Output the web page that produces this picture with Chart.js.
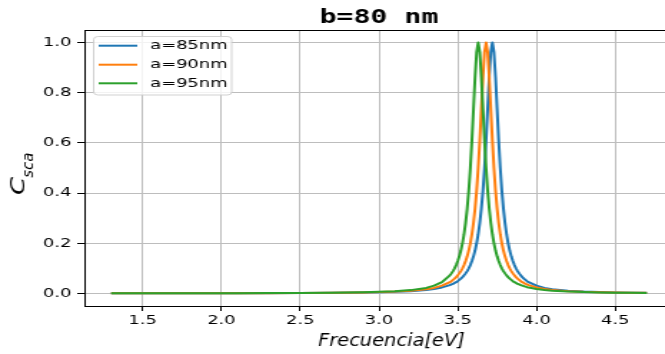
<!DOCTYPE html>
<html>
<head>
<meta charset="utf-8">
<script src="https://cdn.jsdelivr.net/npm/chart.js@4.4.1/dist/chart.umd.min.js"></script>
<style>
    html, body { margin: 0; padding: 0; background: #fff; overflow: hidden; }
    /* the reference picture is stretched sideways, so draw narrow and stretch */
    #wrap { width: 480px; height: 354px; transform: scaleX(1.43); transform-origin: 0 0; }
</style>
</head>
<body>
<div id="wrap"><canvas id="chart" width="480" height="354"></canvas></div>
<script>
const STRETCH = 1.43;

const freq = [
    1.3, 1.5, 1.7, 1.9, 2.1, 2.3, 2.5, 2.7, 2.9, 3.0, 3.1, 3.2, 3.3, 3.35, 3.4,
    3.45, 3.46, 3.47, 3.48, 3.49, 3.50, 3.51, 3.52, 3.53, 3.54, 3.55, 3.56, 3.57, 3.58, 3.59,
    3.60, 3.61, 3.62, 3.63, 3.64, 3.65, 3.66, 3.67, 3.68, 3.69, 3.70, 3.71, 3.72, 3.73, 3.74,
    3.75, 3.76, 3.77, 3.78, 3.79, 3.80, 3.81, 3.82, 3.83, 3.84, 3.85, 3.86, 3.87, 3.88, 3.89,
    3.90, 3.91, 3.92, 3.93, 3.94, 3.95,
    4.0, 4.05, 4.1, 4.2, 4.3, 4.4, 4.5, 4.6, 4.7
];

const cscaA85 = [
    0.0004, 0.0005, 0.0006, 0.0008, 0.0010, 0.0012, 0.0017, 0.0024, 0.0037, 0.0048, 0.0065, 0.0092, 0.014, 0.018, 0.024,
    0.033, 0.036, 0.038, 0.042, 0.045, 0.049, 0.054, 0.059, 0.065, 0.072, 0.080, 0.089, 0.100, 0.113, 0.129,
    0.148, 0.171, 0.200, 0.236, 0.281, 0.338, 0.410, 0.500, 0.610, 0.735, 0.862, 0.962, 1.000, 0.962, 0.862,
    0.735, 0.610, 0.500, 0.410, 0.338, 0.281, 0.236, 0.200, 0.171, 0.148, 0.129, 0.113, 0.100, 0.089, 0.080,
    0.072, 0.065, 0.059, 0.054, 0.049, 0.045,
    0.031, 0.022, 0.017, 0.0107, 0.0074, 0.0054, 0.0041, 0.0032, 0.0026
];

const cscaA90 = [
    0.0004, 0.0005, 0.0006, 0.0008, 0.0010, 0.0013, 0.0018, 0.0026, 0.0041, 0.0054, 0.0074, 0.0107, 0.017, 0.022, 0.031,
    0.045, 0.049, 0.054, 0.059, 0.065, 0.072, 0.080, 0.089, 0.100, 0.113, 0.129, 0.148, 0.171, 0.200, 0.236,
    0.281, 0.338, 0.410, 0.500, 0.610, 0.735, 0.862, 0.962, 1.000, 0.962, 0.862, 0.735, 0.610, 0.500, 0.410,
    0.338, 0.281, 0.236, 0.200, 0.171, 0.148, 0.129, 0.113, 0.100, 0.089, 0.080, 0.072, 0.065, 0.059, 0.054,
    0.049, 0.045, 0.042, 0.038, 0.036, 0.033,
    0.024, 0.018, 0.014, 0.0092, 0.0065, 0.0048, 0.0037, 0.0029, 0.0024
];

const cscaA95 = [
    0.0005, 0.0006, 0.0007, 0.0008, 0.0011, 0.0014, 0.0020, 0.0029, 0.0047, 0.0063, 0.0088, 0.0133, 0.022, 0.031, 0.045,
    0.072, 0.080, 0.089, 0.100, 0.113, 0.129, 0.148, 0.171, 0.200, 0.236, 0.281, 0.338, 0.410, 0.500, 0.610,
    0.735, 0.862, 0.962, 1.000, 0.962, 0.862, 0.735, 0.610, 0.500, 0.410, 0.338, 0.281, 0.236, 0.200, 0.171,
    0.148, 0.129, 0.113, 0.100, 0.089, 0.080, 0.072, 0.065, 0.059, 0.054, 0.049, 0.045, 0.042, 0.038, 0.036,
    0.033, 0.031, 0.029, 0.027, 0.025, 0.024,
    0.018, 0.014, 0.011, 0.0076, 0.0055, 0.0042, 0.0033, 0.0026, 0.0022
];

const seriesLabels = ['a=85nm', 'a=90nm', 'a=95nm'];
const xTicks = [1.5, 2.0, 2.5, 3.0, 3.5, 4.0, 4.5];
const yTicks = [0.0, 0.2, 0.4, 0.6, 0.8, 1.0];

const colors = ['#1f77b4', '#ff7f0e', '#2ca02c'];

function points(ys) {
    return freq.map((f, i) => ({ x: f, y: ys[i] }));
}

// title, axis labels, top spine and legend, matplotlib style
const decorations = {
    id: 'decorations',
    afterDraw(chart) {
        const ctx = chart.ctx;
        const area = chart.chartArea;

        ctx.save();
        ctx.strokeStyle = '#000';
        ctx.lineWidth = 1;
        ctx.beginPath();
        ctx.moveTo(area.left, area.top + 0.5);
        ctx.lineTo(chart.width, area.top + 0.5);
        ctx.stroke();

        ctx.fillStyle = '#000';
        ctx.font = 'bold 19.7px "DejaVu Sans Mono"';
        ctx.textAlign = 'center';
        ctx.textBaseline = 'alphabetic';
        ctx.fillText('b=80 nm', (area.left + area.right) / 2, 23);

        // legend
        ctx.fillStyle = 'rgba(255,255,255,0.8)';
        ctx.strokeStyle = 'rgba(204,204,204,0.9)';
        ctx.lineWidth = 1;
        ctx.beginPath();
        ctx.roundRect(65.5, 36.5, 96.5, 58.5, 3);
        ctx.fill();
        ctx.stroke();
        const rows = [45.7, 64.7, 83.3];
        chart.data.datasets.forEach((ds, i) => {
            ctx.strokeStyle = ds.borderColor;
            ctx.lineWidth = 2;
            ctx.beginPath();
            ctx.moveTo(69, rows[i]);
            ctx.lineTo(96, rows[i]);
            ctx.stroke();
            ctx.fillStyle = '#000';
            ctx.font = '12.5px "DejaVu Sans"';
            ctx.textAlign = 'left';
            ctx.textBaseline = 'middle';
            ctx.fillText(ds.label, 105, rows[i] + 0.5);
        });
        ctx.restore();

        // axis labels are drawn in page pixels (undo the stretch)
        ctx.save();
        ctx.scale(1 / STRETCH, 1);
        ctx.fillStyle = '#000';
        ctx.textBaseline = 'alphabetic';
        ctx.textAlign = 'left';

        ctx.save();
        ctx.translate(318, 346);
        ctx.scale(1.08, 1);
        ctx.font = 'italic 18px "DejaVu Sans"';
        ctx.fillText('Frecuencia[eV]', 0, 0);
        ctx.restore();

        ctx.save();
        ctx.translate(24, 195);
        ctx.rotate(-Math.PI / 2);
        ctx.font = 'italic 26px "DejaVu Sans"';
        const w = ctx.measureText('C').width;
        ctx.save();
        ctx.scale(1, 0.82);
        ctx.fillText('C', 0, 0);
        ctx.restore();
        ctx.font = 'italic 15px "DejaVu Sans"';
        ctx.fillText('sca', w - 1, 9);
        ctx.restore();
        ctx.restore();
    }
};

const ctx = document.getElementById('chart').getContext('2d');
Chart.defaults.font.family = '"DejaVu Sans"';
Chart.defaults.color = '#000';

new Chart(ctx, {
    type: 'line',
    data: {
        datasets: [
            { label: seriesLabels[0], data: points(cscaA85), borderColor: colors[0], order: 2 },
            { label: seriesLabels[1], data: points(cscaA90), borderColor: colors[1], order: 1 },
            { label: seriesLabels[2], data: points(cscaA95), borderColor: colors[2], order: 0 }
        ].map(ds => Object.assign(ds, {
            borderWidth: 2,
            borderJoinStyle: 'round',
            borderCapStyle: 'butt',
            pointRadius: 0,
            fill: false,
            tension: 0
        }))
    },
    options: {
        responsive: false,
        animation: false,
        layout: { padding: { top: 30, right: 9, left: 0, bottom: 0 } },
        plugins: {
            legend: { display: false },
            tooltip: { enabled: false }
        },
        scales: {
            x: {
                type: 'linear',
                min: 1.13,
                max: 4.87,
                afterBuildTicks: scale => { scale.ticks = xTicks.map(v => ({ value: v })); },
                afterFit: scale => { scale.height = 48; },
                ticks: {
                    autoSkip: false,
                    maxRotation: 0,
                    padding: 2,
                    font: { size: 12.5 },
                    callback: v => v.toFixed(1)
                },
                grid: { color: '#bdbdbd', lineWidth: 1, tickLength: 5, tickColor: '#000' },
                border: { color: '#000', width: 1 }
            },
            y: {
                min: -0.05,
                max: 1.05,
                afterBuildTicks: scale => { scale.ticks = yTicks.map(v => ({ value: v })); },
                afterFit: scale => { scale.width = 59; },
                ticks: {
                    autoSkip: false,
                    padding: 4,
                    font: { size: 12.5 },
                    callback: v => v.toFixed(1)
                },
                grid: { color: '#bdbdbd', lineWidth: 1, tickLength: 5, tickColor: '#000' },
                border: { color: '#000', width: 1 }
            }
        }
    },
    plugins: [decorations]
});
</script>
</body>
</html>
